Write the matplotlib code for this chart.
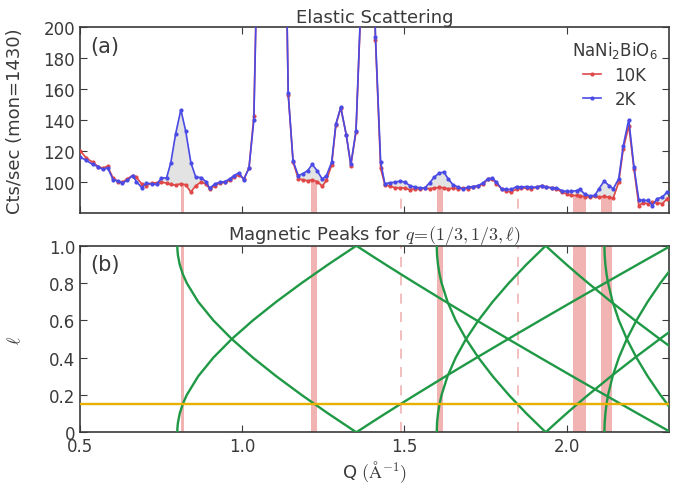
import numpy as np
import matplotlib.pyplot as plt

# ---- (a) elastic scattering data ----
q_vals = [0.500, 0.520, 0.539, 0.556, 0.570, 0.585, 0.602, 0.618, 0.631, 0.646,
          0.662, 0.674, 0.690, 0.705, 0.721, 0.736, 0.751, 0.767, 0.780, 0.795,
          0.811, 0.826, 0.842, 0.857, 0.873, 0.888, 0.900, 0.916, 0.931, 0.947,
          0.962, 0.975, 0.990, 1.005, 1.021, 1.036, 1.052, 1.067, 1.083, 1.098,
          1.114, 1.129, 1.142, 1.157, 1.173, 1.187, 1.202, 1.216, 1.231, 1.247,
          1.260, 1.276, 1.289, 1.304, 1.321, 1.335, 1.351, 1.366, 1.381, 1.396,
          1.411, 1.427, 1.440, 1.455, 1.471, 1.488, 1.502, 1.517, 1.532, 1.548,
          1.563, 1.578, 1.592, 1.607, 1.622, 1.635, 1.650, 1.666, 1.681, 1.697,
          1.712, 1.728, 1.743, 1.758, 1.771, 1.784, 1.800, 1.815, 1.830, 1.846,
          1.861, 1.877, 1.892, 1.908, 1.923, 1.938, 1.954, 1.969, 1.985, 2.000,
          2.015, 2.031, 2.041, 2.056, 2.071, 2.087, 2.100, 2.116, 2.131, 2.144,
          2.161, 2.175, 2.192, 2.208, 2.223, 2.236, 2.252, 2.265, 2.279, 2.295,
          2.310, 2.325]

cts_2k = [116.3, 114.1, 111.5, 110.2, 108.3, 109.4, 101.8, 100.8, 99.7, 101.2,
          104.4, 100.5, 96.6, 99.5, 99.0, 98.6, 102.7, 102.9, 112.6, 131.3,
          146.8, 133.0, 112.6, 103.3, 103.1, 100.5, 96.2, 99.0, 100.1, 100.5,
          102.3, 104.4, 106.1, 101.8, 109.1, 139.9, 300, 520, 640, 600,
          450, 330, 157.5, 113.7, 104.4, 105.5, 107.6, 111.5, 107.6, 102.0,
          104.4, 113.0, 137.7, 148.5, 130.6, 111.5, 133.4, 216, 360, 330,
          194, 113, 99.0, 99.7, 100.1, 100.8, 100.1, 97.9, 96.9, 96.5,
          96.3, 99.7, 103.3, 105.9, 106.6, 102.3, 98.4, 96.9, 95.8, 96.9,
          97.3, 97.9, 99.7, 102.3, 102.7, 100.1, 95.8, 95.4, 95.4, 97.3,
          96.9, 97.3, 96.9, 96.9, 97.9, 96.9, 96.5, 96.5, 94.7, 94.1,
          94.1, 94.7, 95.6, 92.4, 91.3, 91.5, 95.8, 100.8, 97.9, 95.8,
          102.3, 123.7, 140.5, 109.8, 88.7, 88.3, 88.3, 85.0, 89.4, 90.4,
          93.7, 95.0]

cts_10k = [120.5, 115.6, 113.0, 110.2, 109.1, 110.4, 102.7, 100.5, 100.1, 102.3,
           104.4, 103.3, 99.0, 97.9, 99.5, 99.7, 100.1, 99.5, 98.6, 98.2,
           99.1, 98.4, 93.7, 97.9, 100.1, 99.0, 95.8, 97.9, 99.5, 100.1,
           101.2, 103.3, 104.8, 102.3, 109.1, 142.5, 300, 520, 640, 600,
           450, 330, 156.6, 113.0, 102.3, 101.6, 101.0, 101.6, 100.5, 97.5,
           101.2, 111.3, 137.1, 148.1, 130.6, 110.8, 132.4, 214, 360, 330,
           192, 109, 98.4, 97.5, 96.5, 96.5, 96.3, 95.2, 95.8, 95.8,
           96.3, 95.8, 96.3, 96.7, 96.5, 95.8, 96.3, 95.8, 96.3, 95.8,
           96.9, 97.5, 99.0, 102.0, 102.3, 99.1, 95.8, 94.3, 93.7, 95.8,
           96.3, 96.3, 95.8, 96.9, 97.5, 96.9, 96.5, 95.8, 93.7, 92.6,
           91.5, 91.5, 91.3, 90.8, 90.5, 90.9, 90.4, 90.9, 90.4, 89.8,
           100.1, 121.6, 136.6, 108.7, 85.0, 86.8, 86.1, 87.2, 86.8, 86.1,
           89.4, 92.0]

# magnetic peak bands (center, width) and their height in panel (a)
band_q = [0.815, 1.222, 1.610, 2.040, 2.124]
band_w = [0.009, 0.020, 0.018, 0.039, 0.035]
band_top = [99.0, 101.0, 96.7, 91.3, 90.6]
dash_q = [1.490, 1.850]
dash_top = [96.5, 95.8]

# ---- (b) magnetic peak positions Q(l) ----
ell_up = [0, 0.02, 0.05, 0.1, 0.15, 0.2, 0.3, 0.4, 0.5, 0.6, 0.7, 0.8, 0.9, 1.0]
ell_down = [1.0, 0.98, 0.95, 0.9, 0.85, 0.8, 0.7, 0.6, 0.5, 0.4, 0.3, 0.2, 0.1, 0.0]
branches = [
    [0.8000, 0.8003, 0.8019, 0.8074, 0.8165, 0.8292, 0.8643, 0.9111, 0.9680, 1.0333, 1.1055, 1.1834, 1.2658, 1.3520],
    [1.3520, 1.3697, 1.3963, 1.4413, 1.4870, 1.5332, 1.6272, 1.7229, 1.8202, 1.9187, 2.0182, 2.1188, 2.2201, 2.3221],
    [1.6000, 1.6002, 1.6009, 1.6037, 1.6083, 1.6148, 1.6331, 1.6583, 1.6903, 1.7285, 1.7726, 1.8222, 1.8768, 1.9360],
    [1.9360, 1.9483, 1.9672, 1.9994, 2.0325, 2.0666, 2.1372, 2.2110, 2.2876, 2.3667, 2.4481, 2.5316, 2.6170, 2.7041],
    [2.1170, 2.1171, 2.1177, 2.1198, 2.1233, 2.1282, 2.1421, 2.1614, 2.1860, 2.2157, 2.2503, 2.2895, 2.3332, 2.3811],
]
ell_cut = 0.15

grey = '#3a3a3a'
plt.rcParams.update({
    'font.family': 'DejaVu Sans',
    'font.size': 12,
    'text.color': grey,
    'axes.labelcolor': grey,
    'axes.edgecolor': grey,
    'axes.linewidth': 1.2,
    'xtick.color': grey,
    'ytick.color': grey,
    'xtick.direction': 'in',
    'ytick.direction': 'in',
    'xtick.top': True,
    'ytick.right': True,
    'xtick.major.size': 5,
    'ytick.major.size': 5,
    'xtick.labelsize': 12,
    'ytick.labelsize': 12,
})

pink = '#f2b3b3'
red = '#e04848'
blue = '#4a4ae6'
green = '#1f9945'
gold = '#e8b000'

fig = plt.figure(figsize=(6.83, 4.85), dpi=100)
ax1 = fig.add_axes([0.1171, 0.5581, 0.8624, 0.3835])
ax2 = fig.add_axes([0.1171, 0.1066, 0.8624, 0.3847])

# ---- panel (a) ----
ax1.bar(band_q, band_top, width=band_w, color=pink, zorder=1)
ax1.vlines(dash_q, 0, dash_top, colors=pink, linestyles=(0, (6, 5)), lw=1.2, zorder=1)
q = np.array(q_vals)
ax1.fill_between(q, cts_10k, cts_2k, where=np.array(cts_2k) >= np.array(cts_10k),
                 interpolate=True, color='#e3e3e3', zorder=2)
ax1.plot(q, cts_10k, '-o', color=red, lw=1.2, ms=2, label='10K', zorder=3)
ax1.plot(q, cts_2k, '-o', color=blue, lw=1.2, ms=2, label='2K', zorder=4)
ax1.set_xlim(0.5, 2.316)
ax1.set_ylim(80, 200)
ax1.set_yticks([100, 120, 140, 160, 180, 200])
ax1.set_xticks([0.5, 1.0, 1.5, 2.0])
ax1.tick_params(labelbottom=False)
ax1.set_ylabel('Cts/sec (mon=1430)', fontsize=13)
ax1.yaxis.set_label_coords(-0.095, 0.5)
ax1.set_title('Elastic Scattering', fontsize=13, pad=4)
ax1.text(0.017, 0.9, '(a)', transform=ax1.transAxes, fontsize=15, va='center')
leg = ax1.legend(loc='upper right', frameon=False, title='NaNi$_2$BiO$_6$',
                 fontsize=12, title_fontsize=12, handlelength=1.1,
                 borderaxespad=0.3, labelspacing=0.35)

# ---- panel (b) ----
for c, w in zip(band_q, band_w):
    ax2.axvspan(c - w / 2, c + w / 2, color=pink, lw=0, zorder=1)
for d in dash_q:
    ax2.axvline(d, color=pink, ls=(0, (6, 5)), lw=1.2, zorder=1)
for br in branches:
    ax2.plot(br, ell_up, color=green, lw=1.7, zorder=3)
    ax2.plot(br, ell_down, color=green, lw=1.7, zorder=3)
ax2.axhline(ell_cut, color=gold, lw=1.7, zorder=4)
ax2.set_xlim(0.5, 2.316)
ax2.set_ylim(0, 1)
ax2.set_xticks([0.5, 1.0, 1.5, 2.0])
ax2.set_yticks([0, 0.2, 0.4, 0.6, 0.8, 1.0])
ax2.set_yticklabels(['0', '0.2', '0.4', '0.6', '0.8', '1.0'])
ax2.set_ylabel(r'$\ell$', fontsize=13, math_fontfamily='cm')
ax2.yaxis.set_label_coords(-0.095, 0.5)
ax2.set_xlabel(r'Q $(\mathrm{\AA}^{-1})$', fontsize=13, math_fontfamily='cm',
               labelpad=2)
ax2.set_title(r'Magnetic Peaks for $q\!=\!(1/3,1/3,\ell)$', fontsize=13, pad=4,
              math_fontfamily='cm')
ax2.text(0.017, 0.9, '(b)', transform=ax2.transAxes, fontsize=15, va='center')

fig.savefig('out.png', dpi=100)
